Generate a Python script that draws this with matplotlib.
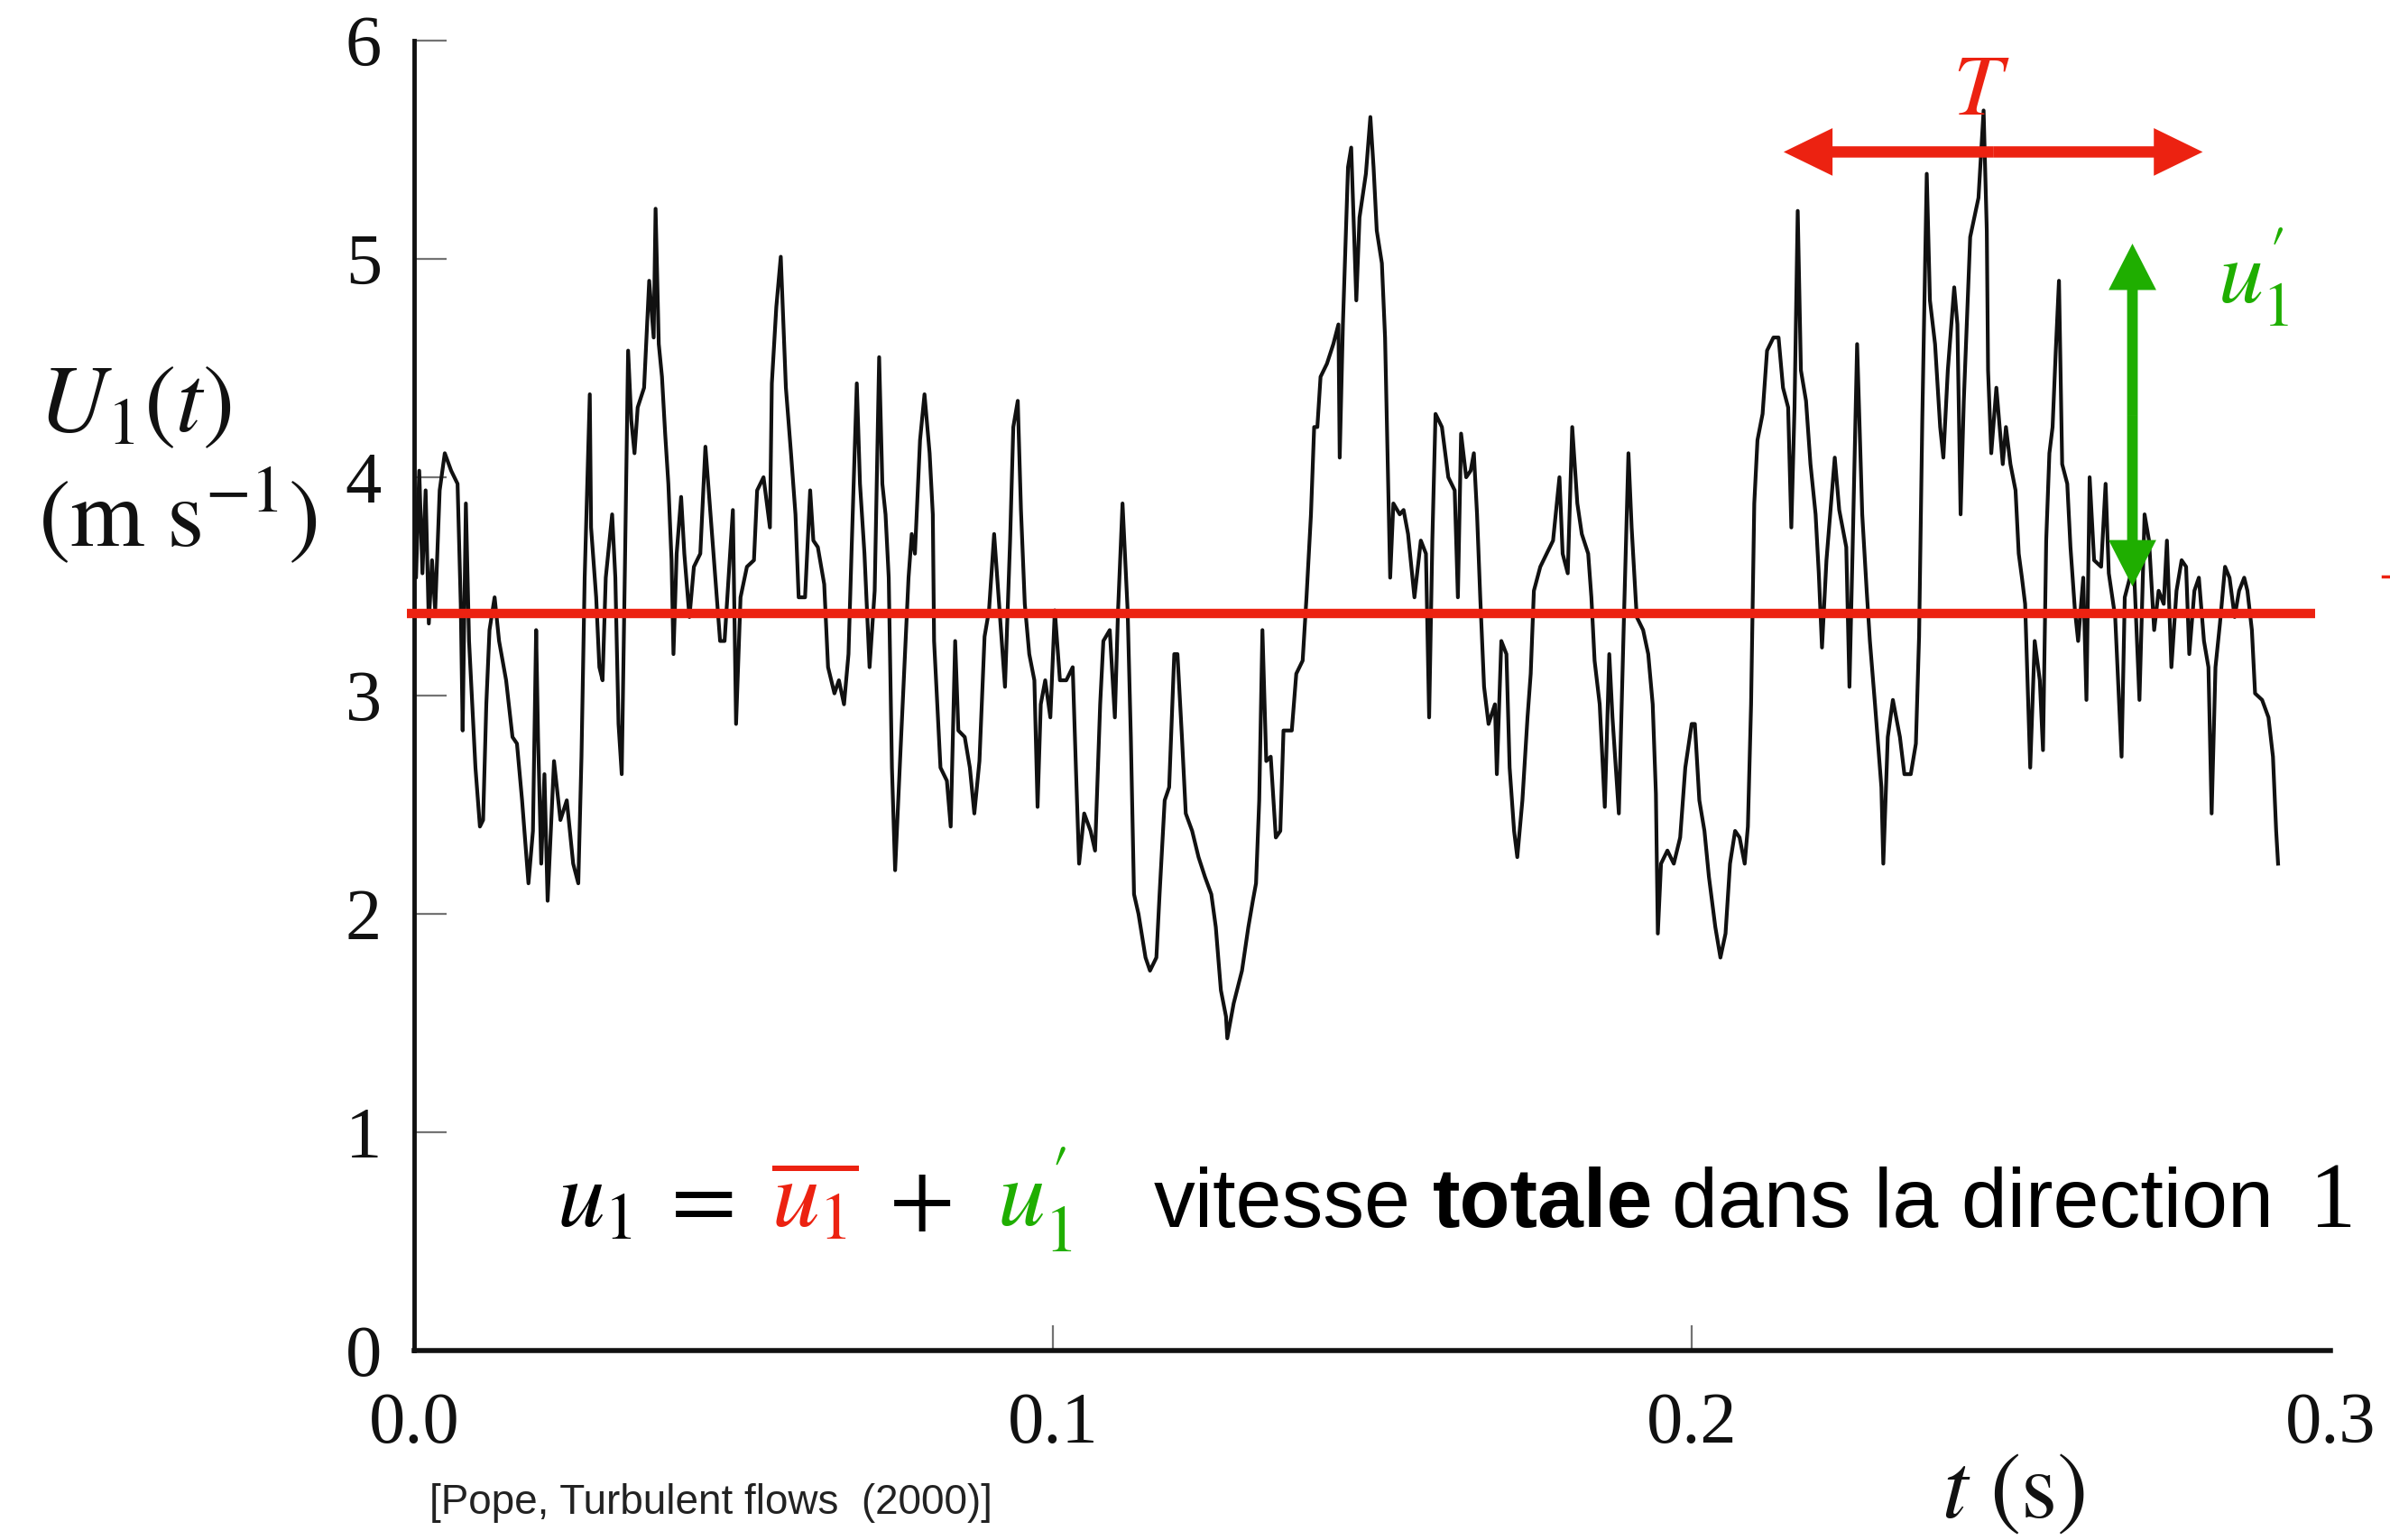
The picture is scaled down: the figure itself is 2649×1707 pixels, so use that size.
"""Velocity trace U1(t) with mean and fluctuation annotations (after Pope 2000)."""

import matplotlib

matplotlib.use("Agg")
import matplotlib.pyplot as plt
from matplotlib.lines import Line2D
from matplotlib.patches import ArrowStyle, FancyArrowPatch

plt.rcParams.update({
    "mathtext.fontset": "stix",
    "font.family": ["Liberation Serif", "DejaVu Serif"],
})

W, H, DPI = 2649, 1707, 100

RED = "#ec2211"
GREEN = "#1fae00"
INK = "#111111"

# trace, time in ms and U1 in m/s, four consecutive stretches
T_MS_A = [0.0, 0.3, 0.8, 1.3, 1.8, 2.3, 2.8, 3.3, 4.0, 4.8,
          5.8, 6.8, 7.3, 7.6, 8.1, 8.6, 9.1, 9.6, 10.3, 10.8,
          11.3, 11.8, 12.6, 13.3, 14.4, 15.4, 16.1, 16.9, 17.9, 18.6,
          19.1, 19.4, 19.9, 20.4, 20.9, 21.9, 22.9, 23.9, 24.9, 25.7,
          26.2, 26.7, 27.5, 27.7, 28.5, 29.0, 29.5, 30.0, 31.0, 31.5,
          32.0, 32.5, 33.0, 33.5, 34.0, 34.5, 35.0, 36.0, 36.8, 37.5,
          37.8, 38.3, 38.8, 39.3, 39.8, 40.3, 40.6, 41.1, 41.8, 42.3,
          43.1, 43.8, 44.8, 45.6, 46.4, 47.1, 47.9, 48.6, 49.9, 50.4,
          51.1, 52.1, 53.2, 53.7, 54.7, 55.7, 56.0, 56.7, 57.4, 58.2,
          59.0, 59.7, 60.2, 61.2, 62.0, 62.5, 63.2, 64.2, 64.8, 65.8,
          66.5, 67.3, 68.0, 68.5, 69.3, 69.8, 70.5, 71.3, 72.1, 72.8,
          73.3, 73.8, 74.3, 74.8, 75.3, 76.1]
U_A = [3.97, 3.54, 4.03, 3.56, 3.94, 3.33, 3.62, 3.39, 3.94, 4.11,
       4.03, 3.97, 3.42, 2.84, 3.88, 3.25, 2.96, 2.67, 2.40, 2.43,
       2.96, 3.30, 3.45, 3.25, 3.07, 2.81, 2.78, 2.52, 2.14, 2.38,
       3.30, 2.81, 2.23, 2.64, 2.06, 2.70, 2.43, 2.52, 2.23, 2.14,
       2.72, 3.54, 4.38, 3.77, 3.45, 3.13, 3.07, 3.54, 3.83, 3.54,
       2.87, 2.64, 3.59, 4.58, 4.26, 4.11, 4.32, 4.41, 4.90, 4.64,
       5.23, 4.61, 4.46, 4.20, 3.97, 3.62, 3.19, 3.65, 3.91, 3.65,
       3.36, 3.59, 3.65, 4.14, 3.83, 3.56, 3.25, 3.25, 3.85, 2.87,
       3.45, 3.59, 3.62, 3.94, 4.00, 3.77, 4.43, 4.78, 5.01, 4.41,
       4.11, 3.83, 3.45, 3.45, 3.94, 3.71, 3.68, 3.51, 3.13, 3.01,
       3.07, 2.96, 3.19, 3.68, 4.43, 3.97, 3.65, 3.13, 3.48, 4.55,
       3.97, 3.83, 3.54, 2.67, 2.20, 2.72]

T_MS_B = [77.4, 77.9, 78.4, 79.2, 79.9, 80.7, 81.2, 81.4, 81.9, 82.4,
          83.4, 84.0, 84.7, 85.2, 86.2, 87.0, 87.7, 88.5, 89.3, 90.0,
          90.8, 91.5, 92.5, 93.3, 93.8, 94.5, 95.0, 95.6, 96.3, 97.1,
          97.6, 98.1, 98.8, 99.6, 100.3, 101.1, 102.1, 103.1, 103.6, 104.1,
          104.9, 105.9, 106.6, 107.4, 107.9, 108.9, 109.7, 110.2, 110.9, 111.7,
          112.2, 112.7, 113.4, 114.5, 115.2, 116.2, 116.7, 117.5, 118.2, 119.0,
          119.5, 120.2, 120.8, 121.8, 122.8, 123.8, 124.8, 125.5, 126.3, 127.1,
          127.3, 128.3, 129.6, 130.6, 131.3, 131.8, 132.3, 132.8, 133.4, 134.1,
          134.9, 135.6, 136.1, 137.4, 138.1, 139.1, 139.7, 140.4, 140.9, 141.4,
          141.9, 142.9, 143.9, 144.7, 144.9, 145.4, 146.2, 146.7, 147.5, 148.0,
          149.0, 149.7, 150.2, 150.7, 151.5, 152.0, 152.3, 152.8, 153.3, 154.3]
U_B = [3.54, 3.74, 3.65, 4.17, 4.38, 4.11, 3.83, 3.25, 2.96, 2.67,
       2.61, 2.40, 3.25, 2.84, 2.81, 2.67, 2.46, 2.70, 3.27, 3.39,
       3.74, 3.45, 3.04, 3.71, 4.23, 4.35, 3.85, 3.42, 3.19, 3.07,
       2.49, 2.96, 3.07, 2.90, 3.39, 3.07, 3.07, 3.13, 2.67, 2.23,
       2.46, 2.38, 2.29, 2.96, 3.25, 3.30, 2.90, 3.39, 3.88, 3.39,
       2.81, 2.09, 2.00, 1.80, 1.74, 1.80, 2.09, 2.52, 2.58, 3.19,
       3.19, 2.81, 2.46, 2.38, 2.26, 2.17, 2.09, 1.94, 1.65, 1.53,
       1.43, 1.59, 1.74, 1.94, 2.06, 2.14, 2.52, 3.30, 2.70, 2.72,
       2.35, 2.38, 2.84, 2.84, 3.10, 3.16, 3.45, 3.83, 4.23, 4.23,
       4.46, 4.52, 4.61, 4.70, 4.09, 4.70, 5.42, 5.51, 4.81, 5.19,
       5.39, 5.65, 5.42, 5.13, 4.98, 4.64, 4.23, 3.54, 3.88, 3.83]

T_MS_C = [154.9, 155.6, 156.6, 157.6, 158.4, 158.9, 159.4, 159.9, 160.9, 161.9,
          162.9, 163.4, 163.9, 164.7, 165.4, 165.9, 166.4, 166.9, 167.5, 168.2,
          169.2, 169.5, 170.2, 171.0, 171.5, 172.2, 172.7, 173.5, 174.3, 174.8,
          175.3, 176.3, 177.3, 178.3, 179.3, 179.8, 180.6, 181.3, 182.1, 182.8,
          183.8, 184.3, 184.8, 185.6, 186.4, 187.1, 187.6, 188.6, 189.4, 190.1,
          190.6, 191.4, 192.4, 193.2, 193.9, 194.4, 194.7, 195.2, 196.2, 197.2,
          198.2, 199.0, 200.0, 200.5, 201.2, 202.0, 202.7, 203.7, 204.5, 205.3,
          206.0, 206.8, 207.5, 208.3, 208.8, 209.3, 209.5, 209.8, 210.3, 211.1,
          211.8, 212.8, 213.6, 214.3, 215.1, 215.6, 216.1, 216.6, 217.1, 217.9,
          218.6, 219.4, 219.9, 220.4, 221.1, 222.4, 223.1, 224.2, 224.7, 225.2,
          225.9, 226.7, 227.4, 227.9, 228.7, 229.7, 230.0, 230.7, 231.5]
U_C = [3.85, 3.74, 3.45, 3.71, 3.65, 2.90, 3.71, 4.29, 4.23, 4.00,
       3.94, 3.45, 4.20, 4.00, 4.03, 4.11, 3.83, 3.45, 3.04, 2.87,
       2.96, 2.64, 3.25, 3.19, 2.67, 2.38, 2.26, 2.52, 2.90, 3.10,
       3.48, 3.59, 3.65, 3.71, 4.00, 3.65, 3.56, 4.23, 3.88, 3.74,
       3.65, 3.45, 3.16, 2.96, 2.49, 3.19, 2.90, 2.46, 3.36, 4.11,
       3.77, 3.36, 3.30, 3.19, 2.96, 2.55, 1.91, 2.23, 2.29, 2.23,
       2.35, 2.67, 2.87, 2.87, 2.52, 2.38, 2.17, 1.94, 1.80, 1.91,
       2.23, 2.38, 2.35, 2.23, 2.40, 2.96, 3.33, 3.88, 4.17, 4.29,
       4.58, 4.64, 4.64, 4.41, 4.32, 3.77, 4.32, 5.22, 4.49, 4.35,
       4.06, 3.83, 3.56, 3.22, 3.62, 4.09, 3.85, 3.68, 3.04, 3.68,
       4.61, 3.83, 3.48, 3.25, 2.96, 2.58, 2.23, 2.81, 2.98]

T_MS_D = [232.6, 233.3, 234.3, 235.1, 235.6, 236.1, 236.8, 237.3, 238.1, 238.9,
          239.4, 240.1, 241.1, 241.6, 242.1, 242.6, 243.6, 244.9, 245.7, 246.2,
          246.4, 246.9, 247.7, 248.7, 249.2, 249.9, 250.7, 251.2, 251.7, 252.2,
          253.0, 253.7, 254.5, 255.0, 255.5, 256.0, 256.5, 257.0, 257.5, 258.0,
          258.8, 259.3, 260.0, 260.5, 261.3, 261.8, 262.3, 263.0, 264.1, 264.8,
          265.3, 266.3, 267.3, 267.8, 268.6, 269.3, 270.1, 270.9, 271.6, 272.4,
          273.1, 273.9, 274.4, 275.1, 275.9, 276.7, 277.4, 277.9, 278.7, 279.4,
          280.2, 280.9, 281.4, 282.0, 282.7, 283.5, 284.2, 285.0, 285.7, 286.5,
          287.0, 287.7, 288.2, 289.3, 290.3, 291.0, 291.5, 291.8]
U_D = [2.81, 2.64, 2.64, 2.78, 3.27, 4.26, 5.39, 4.81, 4.61, 4.23,
       4.09, 4.49, 4.87, 4.70, 3.83, 4.35, 5.10, 5.28, 5.68, 5.13,
       4.49, 4.11, 4.41, 4.06, 4.23, 4.06, 3.94, 3.65, 3.54, 3.42,
       2.67, 3.25, 3.07, 2.75, 3.71, 4.11, 4.23, 4.58, 4.90, 4.06,
       3.97, 3.68, 3.39, 3.25, 3.54, 2.98, 4.00, 3.62, 3.59, 3.97,
       3.56, 3.36, 2.72, 3.45, 3.54, 3.54, 2.98, 3.83, 3.71, 3.30,
       3.48, 3.42, 3.71, 3.13, 3.48, 3.62, 3.59, 3.19, 3.48, 3.54,
       3.25, 3.13, 2.46, 3.13, 3.33, 3.59, 3.54, 3.36, 3.48, 3.54,
       3.48, 3.30, 3.01, 2.98, 2.90, 2.72, 2.38, 2.23]

U_MEAN = 3.375                  # m/s, red mean line
MEAN_T_RANGE = (-0.0012, 0.2976)
PERIOD_T = (0.2144, 0.2800)     # s, span of the T arrow
PERIOD_U = 5.49
FLUCT_T = 0.2690
FLUCT_U = (3.50, 5.07)          # bottom and top of the u1' arrow

X_TICKS = [0.0, 0.1, 0.2, 0.3]
X_TICK_LABELS = ["0.0", "0.1", "0.2", "0.3"]
Y_TICKS = [0, 1, 2, 3, 4, 5, 6]


def fxy(px, py):
    """Figure-pixel (from top-left) to figure fraction."""
    return px / W, 1 - py / H


def half_arrow(ax, start, end, color, tail, head_w, head_l):
    style = ArrowStyle.Simple(head_length=head_l, head_width=head_w, tail_width=tail)
    patch = FancyArrowPatch(start, end, arrowstyle=style, mutation_scale=10,
                            color=color, lw=0, shrinkA=0, shrinkB=0,
                            clip_on=False, zorder=6)
    ax.add_patch(patch)


segments = [(T_MS_A, U_A), (T_MS_B, U_B), (T_MS_C, U_C), (T_MS_D, U_D)]
time_s, speed = [], []
for t_ms, u in segments:
    assert len(t_ms) == len(u)
    time_s += [v / 1000 for v in t_ms]
    speed += u

fig = plt.figure(figsize=(W / DPI, H / DPI), dpi=DPI)
ax = fig.add_axes([459 / W, 1 - 1497 / H, 2124 / W, 1452 / H])
ax.set_xlim(0, 0.3)
ax.set_ylim(0, 6)

ax.plot(time_s, speed, color=INK, lw=3.0, zorder=3)
ax.plot(MEAN_T_RANGE, [U_MEAN, U_MEAN], color=RED, lw=7.5,
        solid_capstyle="butt", clip_on=False, zorder=5)

# T: double arrow drawn as two halves from its middle
mid_t = (PERIOD_T[0] + PERIOD_T[1]) / 2
for tip in PERIOD_T:
    half_arrow(ax, (mid_t, PERIOD_U), (tip, PERIOD_U), RED, 0.9, 3.8, 3.9)
mid_u = (FLUCT_U[0] + FLUCT_U[1]) / 2
for tip in FLUCT_U:
    half_arrow(ax, (FLUCT_T, mid_u), (FLUCT_T, tip), GREEN, 0.85, 3.8, 3.7)

for side in ("top", "right"):
    ax.spines[side].set_visible(False)
ax.spines["left"].set_linewidth(3.5)
ax.spines["bottom"].set_linewidth(4)
ax.spines["left"].set_color(INK)
ax.spines["bottom"].set_color(INK)

ax.set_xticks(X_TICKS, X_TICK_LABELS)
ax.set_yticks(Y_TICKS)
ax.tick_params(axis="both", direction="in", color="0.45", width=1.6,
               labelsize=58, labelcolor=INK)
ax.tick_params(axis="y", length=26, pad=26)
ax.tick_params(axis="x", length=20, pad=33)
xticks = ax.xaxis.get_major_ticks()
xticks[0].tick1line.set_visible(False)
xticks[-1].tick1line.set_visible(False)
ax.yaxis.get_major_ticks()[0].tick1line.set_visible(False)

# axis titles
fig.text(*fxy(42, 478), r"$U_1(t)$", fontsize=76, color=INK, va="baseline")
fig.text(*fxy(42, 605), r"$(\mathrm{m\ s}^{-1})$", fontsize=76, color=INK, va="baseline")
fig.text(*fxy(2152, 1682), r"$t\ (\mathrm{s})$", fontsize=74, color=INK, va="baseline")

# arrow labels
fig.text(*fxy(2196, 127), r"$T$", fontsize=70, color=RED, ha="center", va="baseline")
fig.text(*fxy(2458, 335), r"$u_1^{\prime}$", fontsize=72, color=GREEN, va="baseline")

# decomposition line
base = 1360
fig.text(*fxy(617, base), r"$u_1$", fontsize=76, color="black", va="baseline")
fig.text(*fxy(728, base), r"$=$", fontsize=76, color="black", va="baseline")
fig.text(*fxy(855, base), r"$\overline{u_1}$", fontsize=76, color=RED, va="baseline")
fig.text(*fxy(985, base), r"$+$", fontsize=76, color="black", va="baseline")
fig.text(*fxy(1105, base), r"$u_1^{\prime}$", fontsize=76, color=GREEN, va="baseline")
sans = ["Liberation Sans", "DejaVu Sans"]
fig.text(*fxy(1279, base), "vitesse", fontsize=66, family=sans, va="baseline")
fig.text(*fxy(1588, base), "totale", fontsize=66, family=sans, weight="bold", va="baseline")
fig.text(*fxy(1853, base), "dans la direction", fontsize=66, family=sans, va="baseline")
fig.text(*fxy(2560, base), "1", fontsize=74, va="baseline")

fig.text(*fxy(476, 1678), "[Pope, Turbulent flows  (2000)]", fontsize=33,
         family=sans, color="#222222", va="baseline")

# small red mark cut off at the right edge
fig.add_artist(Line2D([2641 / W, 1.0], [1 - 639 / H] * 2, color=RED, lw=2.5))

fig.savefig("out.png", dpi=DPI)
